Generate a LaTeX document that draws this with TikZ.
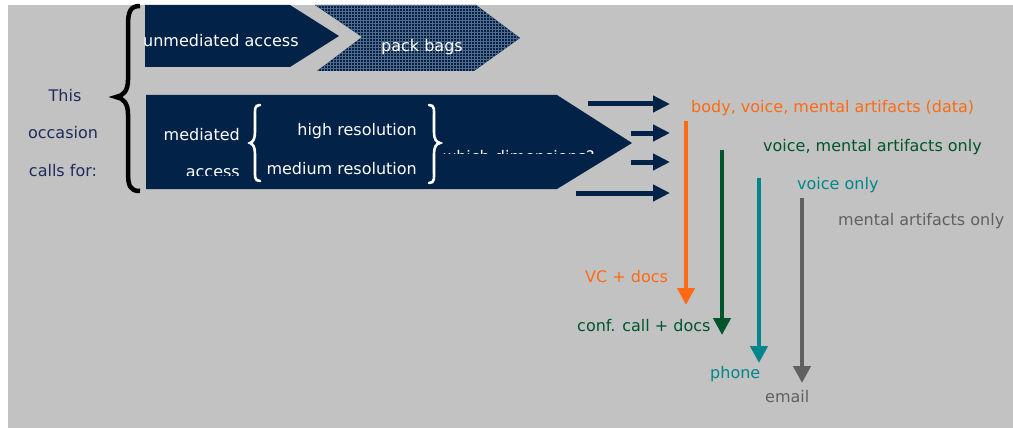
\documentclass[tikz,border=0pt]{standalone}
\usepackage{fontspec}
\setmainfont{DejaVu Sans}
\usetikzlibrary{arrows.meta,patterns}
\definecolor{navy}{HTML}{022248}
\definecolor{bggray}{HTML}{C2C2C2}
\definecolor{gridblue}{HTML}{536A8A}
\definecolor{lefttext}{HTML}{1F2B5C}
\definecolor{orangeC}{HTML}{FF6A13}
\definecolor{greenC}{HTML}{00552B}
\definecolor{tealC}{HTML}{00868A}
\definecolor{grayC}{HTML}{606060}
\tikzset{
  txt/.style={inner sep=0pt, font=\fontsize{16}{19}\selectfont},
  hdarrow/.style={draw=navy, line width=5pt, -{Triangle[length=17pt,width=16pt]}},
  vdarrow/.style={line width=4.5pt, -{Triangle[length=17pt,width=17pt]}},
}
\begin{document}
\begin{tikzpicture}[x=1pt,y=-1pt]
\useasboundingbox (0,0) rectangle (1013,428);
\fill[white] (0,0) rectangle (1013,428);
\fill[bggray] (8,5) rectangle (1013,428);

% upper shapes
\fill[navy] (145,5) -- (290,5) -- (339,36) -- (290,67) -- (145,67) -- cycle;
\node[txt, white, anchor=west] (unmed) at (143,41) {unmediated access};
\path[fill=navy, postaction={pattern=grid, pattern color=gridblue}]
  (315,5) -- (476,5) -- (520,38) -- (474,71) -- (317,71) -- (362,37) -- cycle;
\node[txt, white] (pack) at (422,47) {pack bags};

% lower shape
\fill[navy] (146,95) -- (557,95) -- (632,143) -- (557,189) -- (146,189) -- cycle;
\node[txt, white, anchor=east] (mediated) at (240,135) {mediated};
\begin{scope}
  \clip (146,95) rectangle (246,175.5);
  \node[txt, white, anchor=east] (access) at (240,173) {access};
\end{scope}
\node[txt, white, anchor=east] (high) at (417,131) {high resolution};
\node[txt, white, anchor=east] (medium) at (417,169) {medium resolution};
\begin{scope}
  \clip (441,140) rectangle (620,153);
  \node[txt, white, anchor=west] (which) at (443,157) {which dimensions?};
\end{scope}
% white braces
\draw[white, line width=2.6pt, line cap=round]
  (260,105) .. controls (254,105) and (255,110) .. (255,118) -- (255,132)
  .. controls (255,139) and (253,142) .. (250,143)
  .. controls (253,144) and (255,147) .. (255,154) -- (255,168)
  .. controls (255,176) and (254,181) .. (260,181);
\draw[white, line width=2.6pt, line cap=round]
  (429,105) .. controls (435,105) and (434,110) .. (434,118) -- (434,132)
  .. controls (434,139) and (436,142) .. (440,143)
  .. controls (436,144) and (434,147) .. (434,154) -- (434,170)
  .. controls (434,178) and (435,183) .. (429,183);

% left text and big brace
\node[txt, lefttext] (this) at (65,96) {This};
\node[txt, lefttext] (occasion) at (63,133) {occasion};
\node[txt, lefttext] (calls) at (63,171) {calls for:};
\draw[black, line width=4.5pt]
  (140,6) .. controls (130,6) and (128,12) .. (128,26) -- (128,80)
  .. controls (128,91) and (123,96) .. (116,97)
  .. controls (123,98) and (128,103) .. (128,114) -- (128,172)
  .. controls (128,186) and (130,191) .. (140,191);

% horizontal arrows
\coordinate (h1s) at (588,104); \coordinate (h1e) at (670,104);
\coordinate (h2s) at (631,133); \coordinate (h2e) at (670,133);
\coordinate (h3s) at (631,162); \coordinate (h3e) at (670,162);
\coordinate (h4s) at (576,193); \coordinate (h4e) at (670,193);
\draw[hdarrow] (h1s) -- (h1e);
\draw[hdarrow] (h2s) -- (h2e);
\draw[hdarrow] (h3s) -- (h3e);
\draw[hdarrow] (h4s) -- (h4e);

% dimension labels
\node[txt, orangeC, anchor=west] (body) at (691,108) {body, voice, mental artifacts (data)};
\node[txt, greenC, anchor=west] (voicemental) at (763,147) {voice, mental artifacts only};
\node[txt, tealC, anchor=west] (voiceonly) at (797,185) {voice only};
\node[txt, grayC, anchor=west] (mentalonly) at (838,221) {mental artifacts only};

% vertical arrows
\coordinate (ot) at (686,121); \coordinate (ob) at (686,305);
\coordinate (gt) at (722,150); \coordinate (gb) at (722,335);
\coordinate (tt) at (759,178); \coordinate (tb) at (759,363);
\coordinate (yt) at (802,198); \coordinate (yb) at (802,383);
\draw[vdarrow, orangeC] (ot) -- (ob);
\draw[vdarrow, greenC] (gt) -- (gb);
\draw[vdarrow, tealC] (tt) -- (tb);
\draw[vdarrow, grayC] (yt) -- (yb);

% medium labels
\node[txt, orangeC, anchor=west] (vc) at (585,277) {VC + docs};
\node[txt, greenC, anchor=west] (conf) at (577,326) {conf. call + docs};
\node[txt, tealC, anchor=west] (phone) at (710,374) {phone};
\node[txt, grayC, anchor=west] (email) at (765,397) {email};
\end{tikzpicture}
\end{document}
